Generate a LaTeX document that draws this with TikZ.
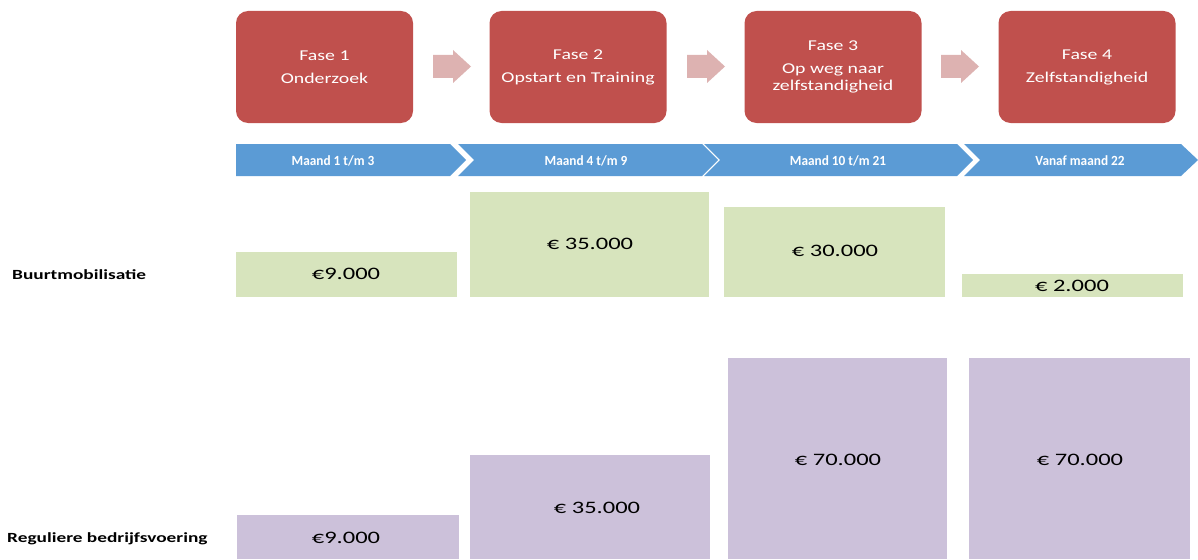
\documentclass[tikz,border=0pt]{standalone}
\usepackage{fontspec}
\setmainfont{Carlito}[FakeStretch=1.32]
\newfontfamily\amountfont{Carlito}[FakeStretch=1.4]
\newfontfamily\labelfont{Carlito}[FakeStretch=1.38]
\newfontfamily\chevfont{Carlito}[FakeStretch=0.95]
\definecolor{faseRed}{HTML}{C0504D}
\definecolor{arrowPink}{HTML}{DDB2B1}
\definecolor{chevBlue}{HTML}{5B9BD5}
\definecolor{greenBox}{HTML}{D7E4BD}
\definecolor{purpleBox}{HTML}{CCC1DA}
\tikzset{
  fasebox/.style={fill=faseRed, rounded corners=12pt, text=white, align=center,
    minimum width=177pt, minimum height=112pt, inner sep=0pt, font=\fontsize{15}{17}\selectfont},
  flowarrow/.style={fill=arrowPink},
  chev/.style={fill=chevBlue},
  chevtext/.style={text=white, font=\chevfont\bfseries\fontsize{14}{16}\selectfont},
  greenbar/.style={fill=greenBox},
  purplebar/.style={fill=purpleBox},
  amount/.style={font=\amountfont\fontsize{17.5}{19}\selectfont, text=black},
  rowlabel/.style={font=\labelfont\bfseries\fontsize{14}{16}\selectfont, anchor=west, inner sep=0pt}
}
\begin{document}
\begin{tikzpicture}[x=1pt,y=-1pt]
\useasboundingbox (0,0) rectangle (1198,559);
% phase boxes
\node[fasebox] (f1) at (324.5,67) {Fase 1\\[6pt]Onderzoek};
\node[fasebox] (f2) at (578,67) {Fase 2\\[6pt]Opstart en Training};
\node[fasebox] (f3) at (833,67) {Fase 3\\[6pt]Op weg naar\\zelfstandigheid};
\node[fasebox] (f4) at (1087,67) {Fase 4\\[6pt]Zelfstandigheid};
% arrows
\foreach \s in {433,687,941}{
  \fill[flowarrow] (\s,55) -- (\s+20,55) -- (\s+20,50) -- (\s+38,66.5) -- (\s+20,83) -- (\s+20,78) -- (\s,78) -- cycle;
}
% chevrons
\fill[chev] (236,144) -- (450,144) -- (466,160) -- (450,176) -- (236,176) -- cycle;
\fill[chev] (458,144) -- (702,144) -- (718,160) -- (702,176) -- (458,176) -- (474,160) -- cycle;
\fill[chev] (704,144) -- (957,144) -- (973,160) -- (957,176) -- (704,176) -- (720,160) -- cycle;
\fill[chev] (964,144) -- (1181,144) -- (1198,160) -- (1181,176) -- (964,176) -- (980,160) -- cycle;
\node[chevtext] (m1) at (333,161) {Maand 1 t/m 3};
\node[chevtext] (m2) at (586,161) {Maand 4 t/m 9};
\node[chevtext] (m3) at (838,161) {Maand 10 t/m 21};
\node[chevtext] (m4) at (1080,161) {Vanaf maand 22};
% labels
\node[rowlabel] (lb1) at (12,275) {Buurtmobilisatie};
\node[rowlabel] (lb2) at (7,539) {Reguliere bedrijfsvoering};
% green bars
\fill[greenbar] (236,252) rectangle (457,297);
\fill[greenbar] (470,192) rectangle (709,297);
\fill[greenbar] (724,207) rectangle (945,297);
\fill[greenbar] (962,274) rectangle (1183,297);
\node[amount] (g1) at (346,274) {€9.000};
\node[amount] (g2) at (590,244) {€ 35.000};
\node[amount] (g3) at (835,251) {€ 30.000};
\node[amount] (g4) at (1072,286) {€ 2.000};
% purple bars
\fill[purplebar] (237,515) rectangle (459,559);
\fill[purplebar] (470,455) rectangle (710,559);
\fill[purplebar] (728,358) rectangle (947,559);
\fill[purplebar] (969,358) rectangle (1190,559);
\node[amount] (p1) at (346,538) {€9.000};
\node[amount] (p2) at (597,508) {€ 35.000};
\node[amount] (p3) at (838,460) {€ 70.000};
\node[amount] (p4) at (1080,460) {€ 70.000};
\end{tikzpicture}
\end{document}
